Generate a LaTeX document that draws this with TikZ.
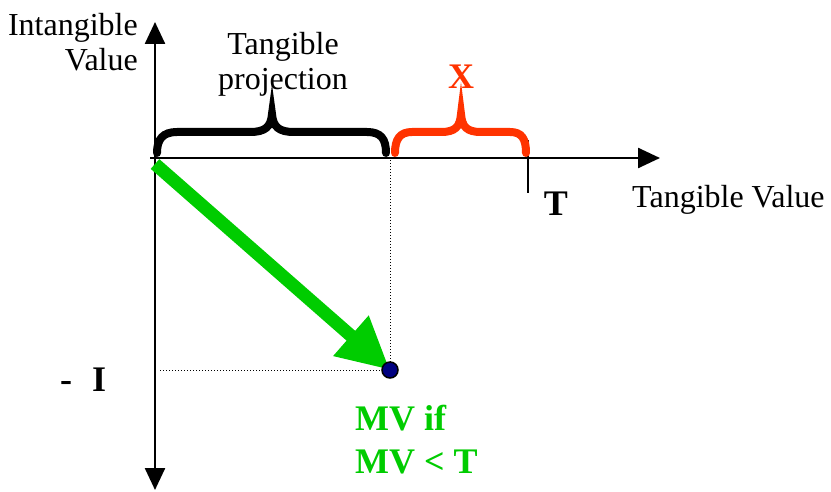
\documentclass[tikz,border=0pt]{standalone}
\usepackage{fontspec}
\setmainfont{Liberation Serif}
\usetikzlibrary{arrows.meta}
\definecolor{mvgreen}{HTML}{00CC00}
\definecolor{xred}{HTML}{FF3300}
\definecolor{dotblue}{HTML}{000080}
\tikzset{
  axis/.style={line width=2.5pt,-{Triangle[length=22pt,width=20pt]}},
  bracepath/.style={line width=8pt,line cap=round},
  guide/.style={line width=1pt,dotted},
  lbl/.style={font=\fontsize{32}{35}\selectfont,align=center,inner sep=0pt},
  blbl/.style={font=\fontsize{36}{43}\selectfont\bfseries,align=left,inner sep=0pt},
}
\begin{document}
\begin{tikzpicture}[x=1pt,y=-1pt]
\useasboundingbox (0,0) rectangle (831,492);
% coordinates
\coordinate (O) at (155,158);
\coordinate (ytop) at (155,22);
\coordinate (ybot) at (155,490);
\coordinate (xl) at (150,158);
\coordinate (xr) at (660,158);
\coordinate (P) at (390,370);
\coordinate (Py) at (390,160);
\coordinate (Px) at (160,370);
\coordinate (gs) at (155,164);
\coordinate (Tt) at (528,140);
\coordinate (Tb) at (528,193);
% axes
\draw[axis] (O) -- (ytop);
\draw[axis] (O) -- (ybot);
\draw[axis] (xl) -- (xr);
\draw[line width=2.5pt] (Tt) -- (Tb);
% dotted guides
\draw[guide] (Py) -- (P);
\draw[guide] (Px) -- (P);
% braces
\draw[bracepath] (157,153) .. controls (157,139) and (163,132) .. (177,132) -- (250,132)
  .. controls (265,132) and (271,127) .. (272,114)
  .. controls (273,127) and (279,132) .. (294,132) -- (367,132)
  .. controls (381,132) and (386,139) .. (386,153);
\draw[bracepath,xred] (395,153) .. controls (395,139) and (400,132) .. (412,132) -- (441,132)
  .. controls (455,132) and (460,127) .. (461,114)
  .. controls (462,127) and (467,132) .. (481,132) -- (510,132)
  .. controls (522,132) and (526,139) .. (526,153);
% green arrow
\draw[mvgreen,line width=13pt,-{Triangle[length=52pt,width=50pt]}] (gs) -- (P);
% point
\node[circle,draw=black,fill=dotblue,line width=1.5pt,minimum size=16pt,inner sep=0pt] (pt) at (P) {};
% labels
\node[lbl,align=right,anchor=east] (iv) at (138,42) {Intangible\\Value};
\node[lbl] (tp) at (283,64) {Tangible\\projection};
\node[blbl,text=xred] (x) at (461,77) {X};
\node[blbl] (T) at (556,204) {T};
\node[lbl,anchor=west] (tv) at (632,200) {Tangible Value};
\node[blbl,anchor=west] (mi) at (60,380) {-\hspace{20pt}I};
\node[blbl,text=mvgreen,anchor=north west] (mv) at (355,405) {MV if\\MV < T};
\end{tikzpicture}
\end{document}
